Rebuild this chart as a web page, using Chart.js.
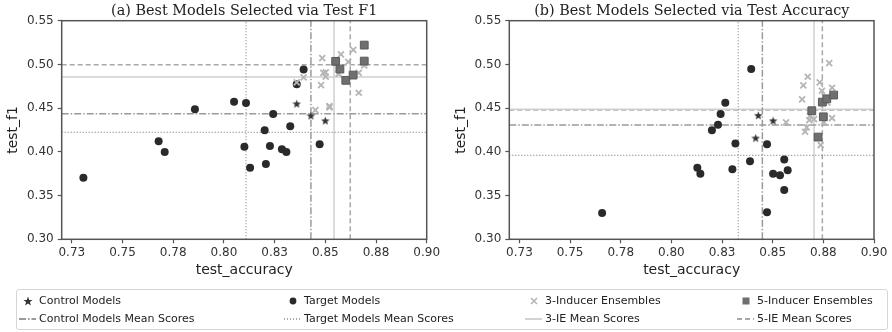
<!DOCTYPE html>
<html>
<head>
<meta charset="utf-8">
<script src="https://cdn.jsdelivr.net/npm/chart.js@4.4.1/dist/chart.umd.min.js"></script>
<style>
  body { margin: 0; background: #fff; font-family: "DejaVu Sans", sans-serif; }
  #wrap { position: relative; width: 892px; height: 332px; }
  .panel { position: absolute; top: 0; width: 446px; height: 290px; }
  .ttl { position: absolute; top: 1px; height: 18px; line-height: 18px; text-align: center;
    font-family: "DejaVu Serif", serif; font-size: 14.4px; color: #222; white-space: nowrap; }
  #legend { position: absolute; left: 16px; top: 289px; width: 872px; height: 41px;
    border: 1px solid #d6d6d6; border-radius: 3px; box-sizing: border-box;
    font-size: 11px; color: #222; }
  .item { position: absolute; height: 14px; line-height: 14px; white-space: nowrap; }
  .item svg { position: absolute; left: 0; top: 0; }
  .item span { position: absolute; left: 20px; top: 0; }
</style>
</head>
<body>
<div id="wrap">
  <div class="panel" style="left:0"><canvas id="c1"></canvas></div>
  <div class="panel" style="left:446px"><canvas id="c2"></canvas></div>
  <div class="ttl" style="left:61.7px;width:365px">(a) Best Models Selected via Test F1</div>
  <div class="ttl" style="left:509.3px;width:365px">(b) Best Models Selected via Test Accuracy</div>
  <div id="legend"></div>
</div>
<script>
// axis ticks
var xTickValues = [0.725, 0.75, 0.775, 0.8, 0.825, 0.85, 0.875, 0.9];
var xTickLabels = ['0.73', '0.75', '0.78', '0.80', '0.83', '0.85', '0.88', '0.90'];
var yTickValues = [0.30, 0.35, 0.40, 0.45, 0.50, 0.55];
var yTickLabels = ['0.30', '0.35', '0.40', '0.45', '0.50', '0.55'];

// (a) selected via test F1
var aControlAcc = [0.8359, 0.8429, 0.8500];
var aControlF1  = [0.4550, 0.4413, 0.4356];
var aTargetAcc = [0.7307, 0.7678, 0.7708, 0.7857, 0.8050, 0.8109, 0.8101, 0.8129, 0.8201,
                  0.8207, 0.8227, 0.8243, 0.8286, 0.8308, 0.8327, 0.8359, 0.8393, 0.8472];
var aTargetF1  = [0.3704, 0.4120, 0.3998, 0.4486, 0.4573, 0.4558, 0.4059, 0.3818, 0.4246,
                  0.3861, 0.4067, 0.4432, 0.4029, 0.3998, 0.4292, 0.4772, 0.4943, 0.4086];
var aIE3Acc = [0.8359, 0.8393, 0.8485, 0.8479, 0.8490, 0.8502, 0.8502, 0.8451, 0.8520,
               0.8521, 0.8577, 0.8566, 0.8613, 0.8638, 0.8665, 0.8665, 0.8692];
var aIE3F1  = [0.4795, 0.4852, 0.5072, 0.4764, 0.4904, 0.4909, 0.4859, 0.4478, 0.4524,
               0.4509, 0.5115, 0.4893, 0.5030, 0.5167, 0.4676, 0.4904, 0.4989];
var aIE5Acc = [0.8551, 0.8572, 0.8601, 0.8637, 0.8692, 0.8692];
var aIE5F1  = [0.5035, 0.4947, 0.4818, 0.4878, 0.5221, 0.5038];
// mean scores: control, target, 3-IE, 5-IE
var aMeanAcc = [0.8429, 0.8109, 0.8543, 0.8623];
var aMeanF1  = [0.4436, 0.4223, 0.4855, 0.4996];

// (b) selected via test accuracy
var bControlAcc = [0.8429, 0.8502, 0.8416];
var bControlF1  = [0.4417, 0.4356, 0.4158];
var bTargetAcc = [0.7658, 0.8128, 0.8143, 0.8200, 0.8230, 0.8243, 0.8266, 0.8316, 0.8301,
                  0.8394, 0.8388, 0.8472, 0.8472, 0.8502, 0.8536, 0.8557, 0.8557, 0.8574];
var bTargetF1  = [0.3301, 0.3818, 0.3750, 0.4246, 0.4310, 0.4432, 0.4562, 0.4097, 0.3800,
                  0.4947, 0.3892, 0.4086, 0.3309, 0.3750, 0.3732, 0.3914, 0.3564, 0.3789];
var bIE3Acc = [0.8779, 0.8673, 0.8651, 0.8645, 0.8732, 0.8743, 0.8793, 0.8793, 0.8566,
               0.8737, 0.8660, 0.8668, 0.8681, 0.8704, 0.8684, 0.8750, 0.8770, 0.8753];
var bIE3F1  = [0.5015, 0.4859, 0.4760, 0.4600, 0.4795, 0.4699, 0.4733, 0.4387, 0.4337,
               0.4078, 0.4230, 0.4280, 0.4364, 0.4375, 0.4409, 0.4401, 0.4562, 0.4341];
var bIE5Acc = [0.8693, 0.8745, 0.8767, 0.8801, 0.8750, 0.8724];
var bIE5F1  = [0.4470, 0.4569, 0.4607, 0.4650, 0.4401, 0.4169];
var bMeanAcc = [0.8449, 0.8330, 0.8704, 0.8745];
var bMeanF1  = [0.4307, 0.3960, 0.4486, 0.4478];

var xMin = 0.72, xMax = 0.90, yMin = 0.30, yMax = 0.55;

var lineStyles = [
  { color: '#9a9a9a', dash: [7, 2, 1.5, 2], width: 1.5 },   // control
  { color: '#8a8a8a', dash: [1, 2], width: 1.2 },           // target
  { color: '#cfcfcf', dash: [], width: 1.5 },               // 3-IE
  { color: '#a8a8a8', dash: [5, 3], width: 1.5 }            // 5-IE
];

function starCanvas(size, color) {
  var c = document.createElement('canvas');
  c.width = size; c.height = size;
  var g = c.getContext('2d');
  var cx = size / 2, cy = size / 2 + 0.4, R = size / 2, r = R * 0.42;
  g.beginPath();
  for (var i = 0; i < 10; i++) {
    var a = -Math.PI / 2 + i * Math.PI / 5;
    var rr = i % 2 === 0 ? R : r;
    g.lineTo(cx + rr * Math.cos(a), cy + rr * Math.sin(a));
  }
  g.closePath();
  g.fillStyle = color;
  g.fill();
  return c;
}
var starImg = starCanvas(9, '#333333');

function pts(xs, ys) {
  return xs.map(function (v, i) { return { x: v, y: ys[i] }; });
}

function meanSets(accs, f1s) {
  var sets = [];
  accs.forEach(function (m, i) {
    var st = lineStyles[i];
    [[{ x: m, y: yMin }, { x: m, y: yMax }], [{ x: xMin, y: f1s[i] }, { x: xMax, y: f1s[i] }]].forEach(function (d) {
      sets.push({
        data: d, showLine: true, pointRadius: 0, borderColor: st.color,
        borderWidth: st.width, borderDash: st.dash, fill: false, order: 10
      });
    });
  });
  return sets;
}

var framePlugin = {
  id: 'frame',
  afterDraw: function (chart) {
    var a = chart.chartArea, ctx = chart.ctx;
    ctx.save();
    ctx.strokeStyle = '#555';
    ctx.lineWidth = 1.5;
    ctx.strokeRect(a.left, a.top, a.right - a.left, a.bottom - a.top);
    ctx.restore();
  }
};

function makeChart(id, d, padLeft, yWidth, padRight) {
  var datasets = [
    { data: pts(d.ie5x, d.ie5y), pointStyle: 'rect', pointRadius: 5.5,
      backgroundColor: '#6f6f6f', borderColor: '#5a5a5a', borderWidth: 1, order: 1 },
    { data: pts(d.ie3x, d.ie3y), pointStyle: 'crossRot', pointRadius: 4.2,
      borderColor: '#b5b5b5', borderWidth: 1.8, order: 2 },
    { data: pts(d.tx, d.ty), pointStyle: 'circle', pointRadius: 4,
      backgroundColor: '#2a2a2a', borderColor: '#2a2a2a', borderWidth: 0, order: 3 },
    { data: pts(d.cx, d.cy), pointStyle: starImg, order: 0 }
  ].concat(meanSets(d.mx, d.my));

  return new Chart(document.getElementById(id), {
    type: 'scatter',
    data: { datasets: datasets },
    plugins: [framePlugin],
    options: {
      responsive: true,
      maintainAspectRatio: false,
      animation: false,
      events: [],
      layout: { padding: { left: padLeft, right: padRight, top: 20.7, bottom: 7 } },
      plugins: {
        legend: { display: false },
        tooltip: { enabled: false },
        title: { display: false }
      },
      scales: {
        x: {
          type: 'linear', min: xMin, max: xMax,
          afterBuildTicks: function (s) { s.ticks = xTickValues.map(function (v) { return { value: v }; }); },
          afterFit: function (s) { s.height = 43.7; },
          ticks: {
            autoSkip: false, maxRotation: 0, padding: 2, color: '#333',
            font: { family: 'DejaVu Sans', size: 12 },
            callback: function (v, i) { return xTickLabels[i]; }
          },
          grid: { drawOnChartArea: false, drawTicks: true, tickLength: 4, tickColor: '#555', tickWidth: 1.2 },
          border: { display: false },
          title: { display: true, text: 'test_accuracy', color: '#222',
                   font: { family: 'DejaVu Sans', size: 14 }, padding: { top: 2, bottom: 4 } }
        },
        y: {
          type: 'linear', min: yMin, max: yMax,
          afterBuildTicks: function (s) { s.ticks = yTickValues.map(function (v) { return { value: v }; }); },
          afterFit: function (s) { s.width = yWidth; },
          ticks: {
            autoSkip: false, padding: 4, color: '#333',
            font: { family: 'DejaVu Sans', size: 12 },
            callback: function (v, i) { return yTickLabels[i]; }
          },
          grid: { drawOnChartArea: false, drawTicks: true, tickLength: 4, tickColor: '#555', tickWidth: 1.2 },
          border: { display: false },
          title: { display: true, text: 'test_f1', color: '#222',
                   font: { family: 'DejaVu Sans', size: 14 }, padding: { top: 5, bottom: 2 } }
        }
      }
    }
  });
}

makeChart('c1', {
  cx: aControlAcc, cy: aControlF1, tx: aTargetAcc, ty: aTargetF1,
  ie3x: aIE3Acc, ie3y: aIE3F1, ie5x: aIE5Acc, ie5y: aIE5F1, mx: aMeanAcc, my: aMeanF1
}, 0, 61.7, 19.3);

makeChart('c2', {
  cx: bControlAcc, cy: bControlF1, tx: bTargetAcc, ty: bTargetF1,
  ie3x: bIE3Acc, ie3y: bIE3F1, ie5x: bIE5Acc, ie5y: bIE5F1, mx: bMeanAcc, my: bMeanF1
}, 2, 61.3, 18);

// legend
var legendItems = [
  { label: 'Control Models', col: 0, row: 0, sym: '<polygon points="9,2.5 10.2,5.9 13.6,5.9 10.9,8 11.9,11.4 9,9.4 6.1,11.4 7.1,8 4.4,5.9 7.8,5.9" fill="#333"/>' },
  { label: 'Target Models', col: 1, row: 0, sym: '<circle cx="9" cy="7" r="3.4" fill="#2a2a2a"/>' },
  { label: '3-Inducer Ensembles', col: 2, row: 0, sym: '<path d="M6,4 L12,10 M12,4 L6,10" stroke="#b5b5b5" stroke-width="1.6"/>' },
  { label: '5-Inducer Ensembles', col: 3, row: 0, sym: '<rect x="5.5" y="3.5" width="7" height="7" fill="#6f6f6f"/>' },
  { label: 'Control Models Mean Scores', col: 0, row: 1, style: 0 },
  { label: 'Target Models Mean Scores', col: 1, row: 1, style: 1 },
  { label: '3-IE Mean Scores', col: 2, row: 1, style: 2 },
  { label: '5-IE Mean Scores', col: 3, row: 1, style: 3 }
];
var colX = [2, 267, 508, 720];
var rowY = [4, 22];
var lg = document.getElementById('legend');
legendItems.forEach(function (it) {
  var sym = it.sym;
  if (sym === undefined) {
    var st = lineStyles[it.style];
    sym = '<line x1="0" y1="7" x2="17" y2="7" stroke="' + st.color + '" stroke-width="' + (st.width + 0.3) +
          '" stroke-dasharray="' + st.dash.join(',') + '"/>';
  }
  var div = document.createElement('div');
  div.className = 'item';
  div.style.left = colX[it.col] + 'px';
  div.style.top = rowY[it.row] + 'px';
  div.innerHTML = '<svg width="18" height="14">' + sym + '</svg><span>' + it.label + '</span>';
  lg.appendChild(div);
});
</script>
</body>
</html>
